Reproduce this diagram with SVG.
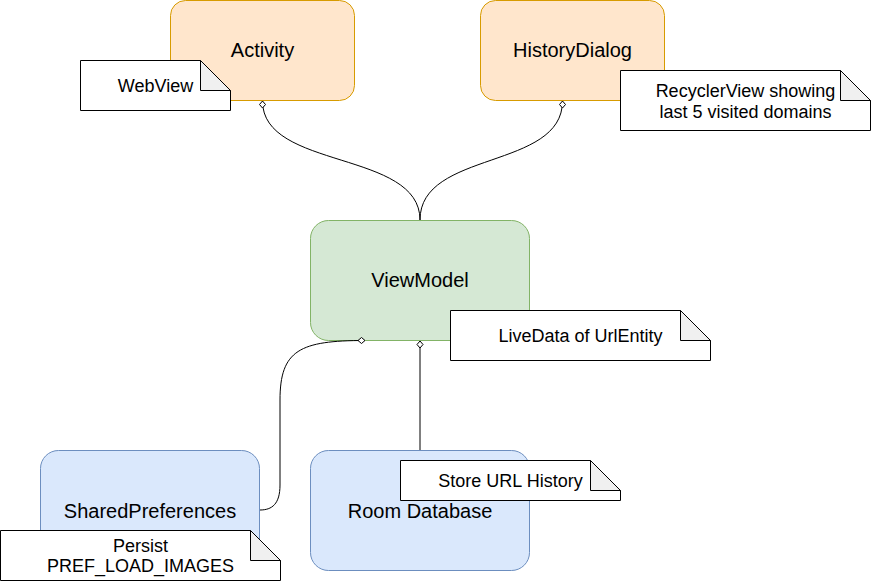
<svg xmlns="http://www.w3.org/2000/svg" width="872" height="582" viewBox="0 0 872 582">
<style>
text{font-family:"Liberation Sans",Arial,Helvetica,sans-serif;fill:#000;text-anchor:middle}
.n{font-size:20px}
.t{font-size:18px}
.orange{fill:#ffe6cc;stroke:#d79b00;stroke-width:1}
.green{fill:#d5e8d4;stroke:#82b366;stroke-width:1}
.blue{fill:#dae8fc;stroke:#6c8ebf;stroke-width:1}
.note{fill:#fff;stroke:#000;stroke-width:1}
.fold{fill:#f0f0f0;stroke:#000;stroke-width:1;stroke-linejoin:round}
.edge{fill:none;stroke:#000;stroke-width:1;marker-start:url(#dia)}
</style>
<defs>
<marker id="dia" markerUnits="userSpaceOnUse" viewBox="0 0 9 8" markerWidth="9" markerHeight="8" refX="0.5" refY="4" orient="auto">
<path d="M0.5,4 L4,1 L7.5,4 L4,7 Z" fill="#fff" stroke="#000" stroke-width="1"/>
</marker>
</defs>
<rect width="872" height="582" fill="#fff"/>
<g id="activity"><rect class="orange" x="170.5" y="0.5" width="184" height="100" rx="15"/><text class="n" x="262.5" y="57">Activity</text></g>
<g id="historydialog"><rect class="orange" x="480.5" y="0.5" width="184" height="100" rx="15"/><text class="n" x="572.5" y="57">HistoryDialog</text></g>
<g id="viewmodel"><rect class="green" x="310.5" y="220.5" width="219" height="120" rx="18"/><text class="n" x="420" y="287">ViewModel</text></g>
<g id="sharedpreferences"><rect class="blue" x="40.5" y="450.5" width="219" height="120" rx="18"/><text class="n" x="150" y="518">SharedPreferences</text></g>
<g id="roomdatabase"><rect class="blue" x="310.5" y="450.5" width="219" height="120" rx="18"/><text class="n" x="420" y="518">Room Database</text></g>
<g id="connectors">
<path class="edge" d="M262.5,101 C262.5,170 420,150 420,220"/>
<path class="edge" d="M562.5,101 C562.5,170 420,150 420,220"/>
<path class="edge" d="M365,340.5 C300,340.5 280,350 280,400 L280,485 C280,504 272,510 260,510"/>
<path class="edge" d="M420,341 L420,450"/>
</g>
<g id="note-webview"><path class="note" d="M80.5,60.5 H200.5 L230.5,90.5 V110.5 H80.5 Z"/><path class="fold" d="M200.5,60.5 V90.5 H230.5 Z"/><text class="t" x="155.5" y="91.5">WebView</text></g>
<g id="note-recycler"><path class="note" d="M620.5,70.5 H840.5 L870.5,100.5 V130.5 H620.5 Z"/><path class="fold" d="M840.5,70.5 V100.5 H870.5 Z"/><text class="t" x="745.5" y="96.5">RecyclerView showing</text><text class="t" x="745.5" y="117.5">last 5 visited domains</text></g>
<g id="note-livedata"><path class="note" d="M450.5,310.5 H680.5 L710.5,340.5 V360.5 H450.5 Z"/><path class="fold" d="M680.5,310.5 V340.5 H710.5 Z"/><text class="t" x="580.5" y="342">LiveData of UrlEntity</text></g>
<g id="note-store"><path class="note" d="M400.5,460.5 H590.5 L620.5,490.5 V500.5 H400.5 Z"/><path class="fold" d="M590.5,460.5 V490.5 H620.5 Z"/><text class="t" x="510.5" y="487">Store URL History</text></g>
<g id="note-persist"><path class="note" d="M0.5,530.5 H250.5 L280.5,560.5 V580.5 H0.5 Z"/><path class="fold" d="M250.5,530.5 V560.5 H280.5 Z"/><text class="t" x="140.5" y="551.5">Persist</text><text class="t" x="140.5" y="572">PREF_LOAD_IMAGES</text></g>
</svg>
